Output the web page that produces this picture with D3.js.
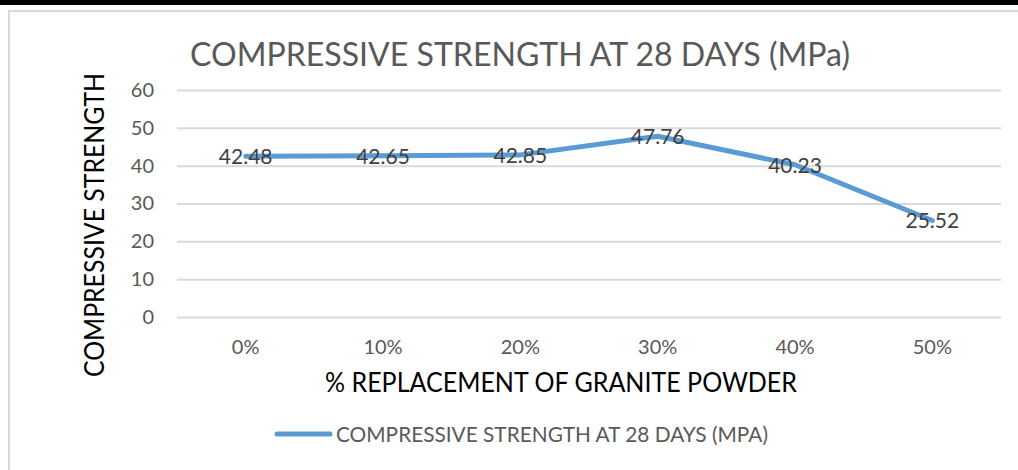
<!DOCTYPE html>
<html>
<head>
<meta charset="utf-8">
<script src="https://cdn.jsdelivr.net/npm/d3@7/dist/d3.min.js"></script>
<style>
body { margin: 0; background: #fff; }
text { font-family: Lato, "Open Sans", sans-serif; }
</style>
</head>
<body>
<div id="chart"></div>
<script>
// chart values
var categories = ["0%", "10%", "20%", "30%", "40%", "50%"];
var strength = [42.48, 42.65, 42.85, 47.76, 40.23, 25.52];
var yTicks = [0, 10, 20, 30, 40, 50, 60];
var chartTitle = "COMPRESSIVE STRENGTH AT 28 DAYS (MPa)";
var xTitle = "% REPLACEMENT OF GRANITE POWDER";
var yTitle = "COMPRESSIVE STRENGTH";
var legendLabel = "COMPRESSIVE STRENGTH AT 28 DAYS (MPA)";

var W = 1018, H = 470;
var plot = {left: 177, right: 1001, top: 90, bottom: 317};

var svg = d3.select("#chart").append("svg")
    .attr("width", W)
    .attr("height", H);

// black rule along the top + chart frame
svg.append("rect")
    .attr("x", 0).attr("y", 0)
    .attr("width", W).attr("height", 5)
    .attr("fill", "#000");
svg.append("rect")
    .attr("x", 9).attr("y", 11)
    .attr("width", W + 20).attr("height", H)
    .attr("fill", "#fff")
    .attr("stroke", "#d9d9d9")
    .attr("stroke-width", 2);

/* scales */
var x = d3.scaleBand().domain(categories).range([plot.left, plot.right]).padding(0);
var y = d3.scaleLinear().domain([0, 60]).range([plot.bottom, plot.top]);

// gridlines + y tick labels
var yAxis = d3.axisLeft(y)
    .tickValues(yTicks)
    .tickSize(-(plot.right - plot.left))
    .tickPadding(23);
var gy = svg.append("g")
    .attr("transform", "translate(" + plot.left + ",0)")
    .call(yAxis);
gy.select(".domain").remove();
gy.selectAll(".tick line").attr("stroke", "#d9d9d9").attr("stroke-width", 2);
gy.selectAll(".tick text")
    .attr("fill", "#595959")
    .style("font-size", "20px");

// x tick labels
var xAxis = d3.axisBottom(x).tickSize(0).tickPadding(23);
var gx = svg.append("g")
    .attr("transform", "translate(0," + plot.bottom + ")")
    .call(xAxis);
gx.select(".domain").remove();
gx.selectAll(".tick text")
    .attr("fill", "#595959")
    .style("font-size", "20px");

// the line
var line = d3.line()
    .x(function(d, i) { return x(categories[i]) + x.bandwidth() / 2; })
    .y(function(d) { return y(d); });

svg.append("path")
    .datum(strength)
    .attr("d", line)
    .attr("fill", "none")
    .attr("stroke", "#5b9bd5")
    .attr("stroke-width", 5)
    .attr("stroke-linecap", "round")
    .attr("stroke-linejoin", "round");

// data labels, centred on the points
svg.selectAll(".dlabel")
    .data(strength)
    .enter().append("text")
    .attr("class", "dlabel")
    .attr("x", function(d, i) { return x(categories[i]) + x.bandwidth() / 2; })
    .attr("y", function(d) { return y(d) + 8; })
    .attr("text-anchor", "middle")
    .attr("fill", "#404040")
    .style("font-size", "21px")
    .text(function(d) { return d.toFixed(2); });

// titles
svg.append("text")
    .attr("x", 520).attr("y", 66)
    .attr("text-anchor", "middle")
    .attr("fill", "#595959")
    .attr("textLength", 660)
    .attr("lengthAdjust", "spacingAndGlyphs")
    .style("font-size", "32px")
    .text(chartTitle);

svg.append("text")
    .attr("x", 561).attr("y", 392)
    .attr("text-anchor", "middle")
    .attr("fill", "#000")
    .attr("textLength", 472)
    .attr("lengthAdjust", "spacingAndGlyphs")
    .style("font-size", "27px")
    .text(xTitle);

svg.append("text")
    .attr("transform", "translate(104,225) rotate(-90)")
    .attr("text-anchor", "middle")
    .attr("fill", "#000")
    .attr("textLength", 304)
    .attr("lengthAdjust", "spacingAndGlyphs")
    .style("font-size", "27px")
    .text(yTitle);

// legend
var legend = svg.append("g").attr("transform", "translate(275,434)");
legend.append("line")
    .attr("x1", 2).attr("x2", 55)
    .attr("y1", 0).attr("y2", 0)
    .attr("stroke", "#5b9bd5")
    .attr("stroke-width", 5)
    .attr("stroke-linecap", "round");
legend.append("text")
    .attr("x", 61).attr("y", 8)
    .attr("fill", "#595959")
    .attr("textLength", 432)
    .attr("lengthAdjust", "spacingAndGlyphs")
    .style("font-size", "21px")
    .text(legendLabel);
</script>
</body>
</html>
